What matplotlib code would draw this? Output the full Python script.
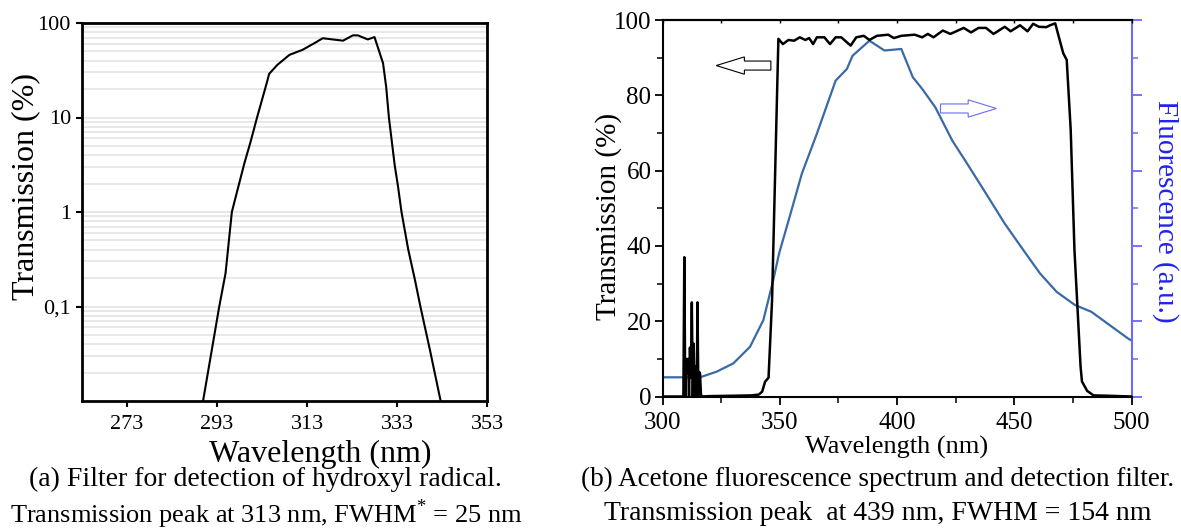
import matplotlib
matplotlib.use('Agg')
import matplotlib.pyplot as plt
from matplotlib.patches import FancyArrow
from matplotlib.ticker import LogLocator, NullFormatter, MultipleLocator

plt.rcParams['font.family'] = ['Liberation Serif', 'DejaVu Serif']
plt.rcParams['mathtext.fontset'] = 'custom'
plt.rcParams['mathtext.rm'] = 'Liberation Serif'

# (a) OH filter, transmission in %
oh_wl = [289.9, 293.5, 294.9, 296.3, 297.8, 299.1, 300.4, 301.9, 303.8, 304.6,
         306.4, 309.1, 312.0, 314.6, 316.5, 318.7, 321.0, 323.2, 324.3, 326.5,
         328.0, 329.9, 330.6, 331.2, 332.5, 333.2, 334.0, 335.5, 337.0, 338.2,
         340.3, 342.7]
oh_tr = [0.01, 0.10, 0.225, 1.0, 1.9, 3.3, 5.4, 10, 21, 29,
         36, 46, 52, 61, 69, 67, 65, 74, 74, 67,
         71, 37.5, 21, 10, 3.1, 1.9, 1.0, 0.40, 0.19, 0.10,
         0.035, 0.01]
oh_xticks = [273, 293, 313, 333, 353]
oh_yticks = [0.1, 1, 10, 100]
oh_ylabels = ['0,1', '1', '10', '100']

# (b) acetone filter transmission (%)
ac_wl = [300, 308.6, 308.9, 309.3, 309.7, 310.0, 310.4, 310.9, 311.3, 311.7,
         312.1, 312.5, 312.9, 313.3, 313.7, 314.2, 314.6, 314.9, 315.3, 315.7,
         316.0, 316.4, 316.8, 320, 330, 338, 341.0, 342.5, 343.7, 345.2,
         346.7, 349.4, 351.3, 353.7, 356.1, 358.5, 360.9, 362.5, 364.2, 365.8,
         369.0, 371.4, 373.8, 376.2, 380.2, 382.6, 385.8, 388.2, 391.4, 396.2,
         398.6, 401.8, 407.5, 410.7, 413.1, 415.5, 419.5, 422.7, 428.4, 431.5,
         434.7, 437.9, 441.1, 445.9, 448.4, 452.4, 455.6, 458.0, 460.4, 463.6,
         465.2, 467.4, 470.8, 472.3, 474.0, 475.6, 478.2, 478.8, 481.0, 483.7,
         490, 495, 500]
ac_tr = [0, 0, 0, 37, 0, 10, 6, 10, 0, 13,
         5, 25, 0, 14, 0, 8, 0, 25, 0, 6.5,
         6, 0.5, 0, 0.1, 0.2, 0.3, 0.5, 1.3, 3.9, 5.0,
         25.6, 95.0, 93.6, 94.7, 94.5, 95.4, 94.7, 95.2, 93.6, 95.4,
         95.4, 93.6, 95.4, 95.4, 93.2, 95.4, 95.8, 94.7, 95.8, 96.1,
         95.2, 95.8, 96.1, 95.4, 96.3, 95.4, 97.2, 96.3, 97.9, 96.7,
         97.9, 97.9, 96.3, 98.2, 97.0, 98.6, 97.0, 99.0, 98.2, 98.1,
         98.6, 99.1, 91.2, 89.4, 70.8, 38.9, 8.0, 4.0, 1.5, 0.3,
         0.2, 0.1, 0.0]

# acetone fluorescence (a.u.)
fl_wl = [300, 316.0, 323.1, 330.2, 337.3, 343.0, 347.2, 349.7, 354.6, 359.4,
         365.8, 373.8, 378.6, 381.0, 388.2, 394.6, 401.8, 406.7, 410.7, 416.3,
         423.5, 429.9, 437.9, 445.9, 453.8, 460.9, 468.0, 475.8, 482.8, 498.9, 500]
fl_val = [5.1, 5.1, 6.6, 8.8, 13.2, 20.3, 30.9, 38.0, 48.6, 59.2,
          69.8, 83.9, 87.0, 90.5, 94.5, 91.9, 92.3, 84.8, 81.7, 76.8,
          68.0, 61.8, 53.9, 45.9, 38.9, 32.7, 27.8, 24.3, 22.5, 15.2, 14.9]

W, H = 1181, 531
fig = plt.figure(figsize=(W / 100, H / 100), dpi=100)

# ---- panel (a)
ax1 = fig.add_axes([82 / W, (H - 401) / H, (487 - 82) / W, (401 - 23) / H])
ax1.plot(oh_wl, oh_tr, color='black', lw=1.5)
ax1.set_yscale('log')
ax1.set_xlim(263, 353)
ax1.set_ylim(0.01, 100)
ax1.set_xticks(oh_xticks)
ax1.set_yticks(oh_yticks)
ax1.set_yticklabels(oh_ylabels)
ax1.yaxis.set_minor_locator(LogLocator(base=10, subs=range(2, 10)))
ax1.yaxis.set_minor_formatter(NullFormatter())
ax1.grid(True, axis='y', which='both', color='#e4e4e4', lw=1.2)
ax1.set_axisbelow(True)
ax1.tick_params(axis='both', which='major', direction='out', length=4, width=1.5,
                labelsize=16, pad=4)
ax1.tick_params(axis='y', which='minor', length=0)
ax1.tick_params(axis='x', pad=6)
for s in ax1.spines.values():
    s.set_linewidth(2)

fig.text(26 / W, 1 - 186 / H, 'Transmission (%)', rotation=90, fontsize=23,
         ha='center', va='center')
fig.text(320 / W, 1 - 454 / H, 'Wavelength (nm)', fontsize=23,
         ha='center', va='center')

# ---- panel (b)
ax2 = fig.add_axes([662.5 / W, (H - 396.5) / H, (1131.7 - 662.5) / W, (396.5 - 20) / H])
ax3 = ax2.twinx()
ax2.set_zorder(ax3.get_zorder() + 1)
ax2.patch.set_visible(False)

ax3.plot(fl_wl, fl_val, color='#3a6aa3', lw=1.6)
ax2.plot(ac_wl, ac_tr, color='black', lw=1.8)

ax2.set_xlim(300, 500)
ax2.set_ylim(0, 100)
ax3.set_ylim(0, 100)
ax2.xaxis.set_major_locator(MultipleLocator(50))
ax2.xaxis.set_minor_locator(MultipleLocator(25))
ax2.yaxis.set_major_locator(MultipleLocator(20))
ax2.yaxis.set_minor_locator(MultipleLocator(10))
ax2.tick_params(axis='both', which='major', direction='out', length=6, width=1.3,
                labelsize=18, pad=2)
ax2.tick_params(axis='both', which='minor', direction='out', length=4, width=1.1)
ax2.tick_params(axis='x', pad=5)
ax2.spines['right'].set_visible(False)
for k in ['left', 'bottom', 'top']:
    ax2.spines[k].set_linewidth(1.5)

top = ax2.secondary_xaxis('top')
top.xaxis.set_major_locator(MultipleLocator(50))
top.xaxis.set_minor_locator(MultipleLocator(25))
top.tick_params(which='both', direction='in', length=2.5, width=1, labeltop=False)
top.spines['top'].set_linewidth(1.5)

blue = '#6a6aff'
for k in ['left', 'bottom', 'top']:
    ax3.spines[k].set_visible(False)
ax3.spines['right'].set_color(blue)
ax3.spines['right'].set_linewidth(1.5)
ax3.yaxis.set_major_locator(MultipleLocator(20))
ax3.yaxis.set_minor_locator(MultipleLocator(10))
ax3.tick_params(axis='y', which='major', colors=blue, length=7, width=1.3,
                labelright=False)
ax3.tick_params(axis='y', which='minor', colors=blue, length=4, width=1.1)

ax2.add_patch(FancyArrow(346.2, 87.9, -23.3, 0, width=2.4, head_width=4.6,
                         head_length=12, length_includes_head=True,
                         fc='white', ec='black', lw=0.8, zorder=5))
ax3.add_patch(FancyArrow(418.5, 76.5, 23.8, 0, width=2.4, head_width=4.6,
                         head_length=12, length_includes_head=True,
                         fc='white', ec=blue, lw=0.8, zorder=5))

fig.text(609 / W, 1 - 216 / H, 'Transmission (%)', rotation=90, fontsize=21,
         ha='center', va='center')
fig.text(1165 / W, 1 - 211.5 / H, 'Fluorescence (a.u.)', rotation=270, fontsize=21,
         ha='center', va='center', color='#2222ee')
fig.text(897 / W, 1 - 447 / H, 'Wavelength (nm)', fontsize=19,
         ha='center', va='center')

# ---- captions
fig.text(265 / W, 1 - 479 / H, '(a) Filter for detection of hydroxyl radical.',
         fontsize=20, ha='center', va='center')
fig.text(266 / W, 1 - 514 / H, 'Transmission peak at 313 nm, FWHM$^{*}$ = 25 nm',
         fontsize=19, ha='center', va='center')
fig.text(878 / W, 1 - 479 / H,
         '(b) Acetone fluorescence spectrum and detection filter.',
         fontsize=19.5, ha='center', va='center')
fig.text(878 / W, 1 - 514 / H, 'Transmission peak  at 439 nm, FWHM = 154 nm',
         fontsize=20, ha='center', va='center')

fig.savefig('out.png', dpi=100)
